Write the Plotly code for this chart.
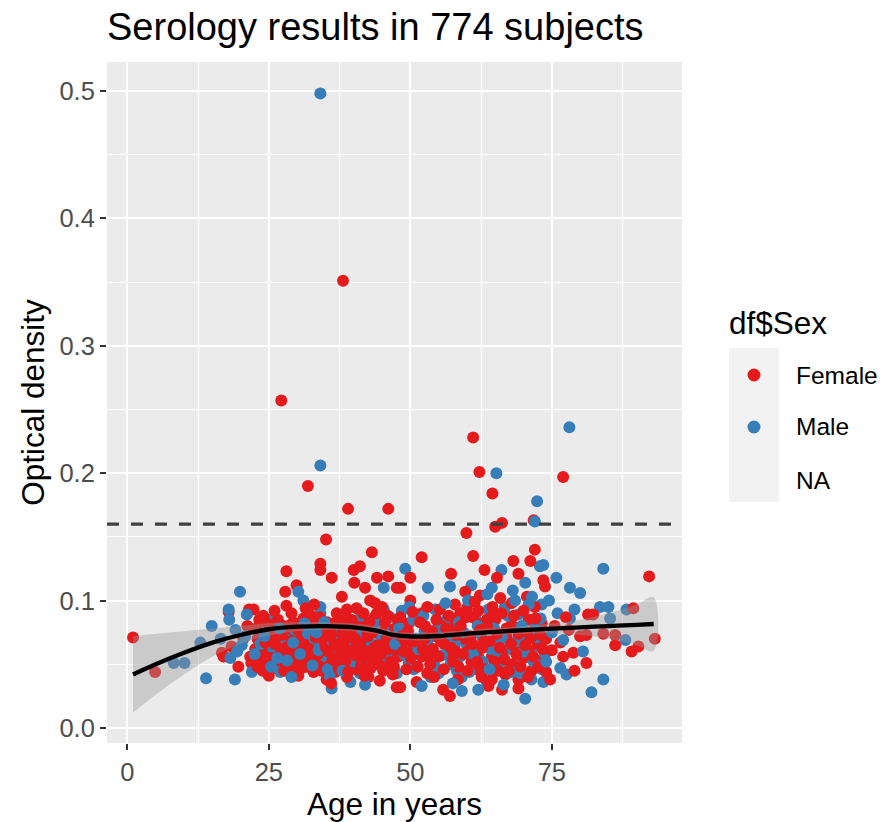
import plotly.graph_objects as go

# ---------------- data ----------------
female_outliers = [(38.1, 0.351), (27.2, 0.257), (31.9, 0.190), (39.0, 0.172), (46.1, 0.172),
                   (61.1, 0.228), (62.2, 0.201), (64.5, 0.184), (77.0, 0.197), (59.9, 0.153),
                   (65.0, 0.158), (66.2, 0.161), (71.8, 0.163), (92.2, 0.119), (35.1, 0.148)]
male_outliers = [(34.1, 0.498), (34.1, 0.206), (65.2, 0.200), (72.4, 0.178), (78.1, 0.236), (72.0, 0.162)]

female_under22 = [(1.0, 0.071), (4.9, 0.044), (16.7, 0.059), (17.0, 0.056), (17.9, 0.091), (18.4, 0.064),
                  (19.6, 0.048), (20.5, 0.070), (21.5, 0.093), (21.7, 0.056), (21.9, 0.051), (21.2, 0.080)]
male_under22 = [(8.2, 0.051), (10.1, 0.051), (12.9, 0.067), (13.9, 0.039), (14.9, 0.080), (17.9, 0.093),
                (18.0, 0.085), (18.2, 0.055), (19.0, 0.038), (19.1, 0.077), (19.4, 0.060), (19.9, 0.107),
                (20.2, 0.065), (21.1, 0.089), (22.0, 0.044), (16.5, 0.070), (20.8, 0.072)]

female_22_35 = [(22.3, 0.093), (22.6, 0.062), (23.0, 0.070), (23.4, 0.054), (23.8, 0.066), (24.1, 0.058),
                (24.5, 0.075), (24.8, 0.050), (25.2, 0.063), (25.5, 0.069), (25.9, 0.057), (26.2, 0.047),
                (26.5, 0.072), (26.8, 0.061), (27.1, 0.081), (27.4, 0.055), (27.9, 0.107), (28.1, 0.123),
                (28.1, 0.096), (28.3, 0.066), (28.6, 0.052), (28.9, 0.074), (29.2, 0.058), (29.5, 0.046),
                (29.9, 0.112), (30.0, 0.063), (30.3, 0.070), (30.6, 0.054), (30.9, 0.082), (31.1, 0.086),
                (31.4, 0.060), (31.7, 0.048), (32.0, 0.067), (32.3, 0.073), (32.6, 0.057), (32.9, 0.044),
                (33.2, 0.064), (33.5, 0.079), (33.8, 0.052), (34.1, 0.129), (34.1, 0.124), (34.4, 0.061),
                (34.7, 0.069), (35.0, 0.056), (24.0, 0.088), (26.0, 0.092), (29.0, 0.090), (31.5, 0.094),
                (33.0, 0.097), (25.0, 0.041), (27.5, 0.052), (30.2, 0.041), (32.5, 0.088), (23.0, 0.048)]
female_35_48 = [(35.2, 0.038), (35.5, 0.060), (35.8, 0.072), (36.1, 0.118), (36.3, 0.054), (36.6, 0.066),
                (36.9, 0.083), (37.0, 0.090), (37.3, 0.047), (37.6, 0.058), (37.9, 0.103), (38.2, 0.068),
                (38.5, 0.052), (38.8, 0.093), (38.8, 0.040), (39.2, 0.061), (39.5, 0.076), (39.6, 0.085),
                (40.0, 0.124), (40.1, 0.114), (40.3, 0.057), (40.5, 0.094), (40.8, 0.066), (41.1, 0.127),
                (41.3, 0.049), (41.7, 0.090), (42.0, 0.110), (42.2, 0.060), (42.5, 0.072), (42.9, 0.100),
                (43.2, 0.138), (43.3, 0.054), (43.6, 0.063), (43.8, 0.098), (44.1, 0.118), (44.1, 0.090),
                (44.3, 0.065), (44.8, 0.058), (45.2, 0.045), (45.5, 0.083), (45.8, 0.070), (46.1, 0.119),
                (46.2, 0.062), (46.5, 0.052), (47.0, 0.068), (47.3, 0.078), (47.6, 0.110), (47.6, 0.032),
                (47.9, 0.057), (36.0, 0.035), (39.0, 0.044), (41.9, 0.041), (44.6, 0.037), (46.9, 0.042),
                (38.0, 0.078), (42.8, 0.083), (45.0, 0.095), (40.2, 0.070), (37.2, 0.064), (43.0, 0.047)]
female_22_48_more = [(22.8, 0.078), (23.3, 0.085), (23.9, 0.045), (24.4, 0.067), (24.7, 0.082), (25.3, 0.055),
                     (25.7, 0.078), (26.1, 0.066), (26.6, 0.085), (27.0, 0.058), (27.3, 0.073), (27.7, 0.045),
                     (28.0, 0.063), (28.4, 0.080), (28.7, 0.059), (29.0, 0.068), (29.3, 0.083), (29.7, 0.053),
                     (30.1, 0.077), (30.4, 0.060), (30.8, 0.047), (31.2, 0.066), (31.6, 0.079), (31.9, 0.055),
                     (32.2, 0.062), (32.6, 0.083), (33.0, 0.050), (33.3, 0.071), (33.7, 0.058), (34.0, 0.087),
                     (34.3, 0.045), (34.6, 0.076), (35.0, 0.064), (35.3, 0.083), (35.7, 0.049), (36.0, 0.059),
                     (36.4, 0.075), (36.7, 0.044), (37.1, 0.070), (37.4, 0.081), (37.8, 0.062), (38.1, 0.055),
                     (38.4, 0.085), (38.7, 0.072), (39.1, 0.050), (39.4, 0.066), (39.8, 0.058), (40.1, 0.080),
                     (40.5, 0.046), (40.9, 0.075), (41.2, 0.061), (41.6, 0.083), (41.9, 0.053), (42.3, 0.068),
                     (42.6, 0.040), (43.0, 0.078), (43.4, 0.058), (43.7, 0.087), (44.0, 0.050), (44.4, 0.074),
                     (44.7, 0.066), (45.1, 0.056), (45.4, 0.076), (45.7, 0.049), (46.0, 0.088), (46.4, 0.071),
                     (46.7, 0.058), (47.1, 0.048), (47.4, 0.064), (47.8, 0.085)]
male_22_48 = [(23.5, 0.066), (24.9, 0.085), (25.8, 0.062), (27.0, 0.044), (27.8, 0.070), (28.8, 0.064),
              (29.6, 0.077), (30.2, 0.107), (31.1, 0.100), (32.3, 0.057), (33.0, 0.068), (34.1, 0.095),
              (34.1, 0.090), (35.0, 0.056), (35.6, 0.078), (36.1, 0.031), (37.6, 0.064), (38.4, 0.072),
              (39.4, 0.036), (40.0, 0.081), (41.1, 0.043), (41.6, 0.062), (42.9, 0.053), (43.8, 0.075),
              (44.5, 0.060), (45.3, 0.110), (45.3, 0.093), (46.4, 0.087), (46.8, 0.066), (47.6, 0.043),
              (26.5, 0.055), (31.9, 0.074), (36.8, 0.050), (40.8, 0.069), (44.9, 0.049), (33.8, 0.061),
              (39.0, 0.058), (42.2, 0.078)]
male_22_48_more = [(22.5, 0.058), (24.2, 0.072), (25.4, 0.048), (26.9, 0.078), (28.2, 0.053), (29.3, 0.067),
                   (30.5, 0.058), (31.3, 0.082), (32.7, 0.049), (33.4, 0.075), (34.8, 0.083), (35.4, 0.046),
                   (36.3, 0.068), (37.0, 0.057), (37.9, 0.078), (38.8, 0.063), (39.8, 0.052), (40.4, 0.074),
                   (41.3, 0.088), (42.4, 0.047), (43.2, 0.066), (44.0, 0.083), (45.0, 0.070), (45.9, 0.056),
                   (46.9, 0.077), (47.7, 0.060), (35.8, 0.040), (42.0, 0.034), (29.0, 0.040), (38.0, 0.045)]

female_48_74 = [(52.0, 0.134), (61.1, 0.135), (72.0, 0.140), (68.2, 0.131), (71.2, 0.131), (50.0, 0.118),
                (48.2, 0.110), (57.2, 0.121), (63.1, 0.124), (65.3, 0.118), (69.1, 0.121), (73.5, 0.116),
                (59.7, 0.107), (62.3, 0.104), (65.9, 0.102), (67.9, 0.098), (70.6, 0.103), (72.0, 0.095),
                (50.0, 0.100), (52.0, 0.090), (55.2, 0.093), (57.9, 0.097), (58.8, 0.090), (60.0, 0.094),
                (61.0, 0.087), (62.0, 0.092), (63.5, 0.085), (64.5, 0.095), (58.0, 0.084), (48.2, 0.087),
                (49.7, 0.082), (52.6, 0.080), (55.5, 0.080), (57.9, 0.078), (62.0, 0.082), (65.0, 0.085),
                (67.9, 0.081), (70.9, 0.085), (73.2, 0.082), (49.1, 0.068), (47.9, 0.056), (52.0, 0.056),
                (56.7, 0.057), (60.3, 0.061), (62.0, 0.056), (64.4, 0.056), (66.2, 0.059), (68.5, 0.064),
                (70.9, 0.061), (73.2, 0.053), (48.2, 0.032), (51.1, 0.036), (55.8, 0.030), (57.0, 0.025),
                (62.6, 0.040), (63.8, 0.033), (64.4, 0.038), (66.2, 0.030), (69.1, 0.038), (69.1, 0.031),
                (71.4, 0.045), (50.5, 0.062), (53.5, 0.050), (54.5, 0.072), (56.0, 0.066), (58.5, 0.048),
                (59.5, 0.070), (61.5, 0.046), (63.0, 0.068), (65.5, 0.045), (67.0, 0.072), (68.0, 0.050),
                (70.0, 0.055), (72.5, 0.066), (53.0, 0.043), (60.8, 0.052), (66.8, 0.042), (54.0, 0.062),
                (58.0, 0.060), (71.0, 0.075)]
female_48_74_more = [(48.4, 0.072), (48.8, 0.060), (49.3, 0.046), (49.6, 0.076), (50.1, 0.055), (50.4, 0.091),
                     (50.8, 0.068), (51.3, 0.048), (51.7, 0.083), (52.2, 0.062), (52.5, 0.070), (53.0, 0.095),
                     (53.3, 0.058), (53.8, 0.076), (54.2, 0.040), (54.6, 0.085), (55.0, 0.056), (55.4, 0.068),
                     (55.9, 0.046), (56.3, 0.078), (56.8, 0.088), (57.2, 0.063), (57.6, 0.052), (58.1, 0.073),
                     (58.4, 0.038), (58.9, 0.080), (59.3, 0.058), (59.8, 0.087), (60.1, 0.045), (60.6, 0.072),
                     (61.0, 0.066), (61.4, 0.099), (61.8, 0.052), (62.3, 0.077), (62.7, 0.063), (63.2, 0.046),
                     (63.6, 0.079), (64.0, 0.068), (64.5, 0.088), (64.9, 0.052), (65.3, 0.074), (65.8, 0.063),
                     (66.1, 0.090), (66.6, 0.054), (67.0, 0.078), (67.4, 0.045), (67.8, 0.066), (68.3, 0.088),
                     (68.7, 0.058), (69.1, 0.074), (69.5, 0.048), (70.0, 0.092), (70.3, 0.065), (70.8, 0.040),
                     (71.2, 0.070), (71.7, 0.056), (72.1, 0.086), (72.6, 0.048), (73.0, 0.073), (73.4, 0.062),
                     (74.0, 0.044)]
male_48_74 = [(49.1, 0.125), (53.1, 0.110), (57.0, 0.111), (60.8, 0.112), (64.4, 0.110), (70.3, 0.114),
              (68.1, 0.108), (66.1, 0.124), (72.9, 0.127), (48.5, 0.092), (54.4, 0.093), (56.4, 0.085),
              (61.4, 0.087), (63.8, 0.093), (66.7, 0.095), (69.1, 0.089), (73.2, 0.097), (47.3, 0.066),
              (49.7, 0.051), (53.8, 0.059), (54.4, 0.048), (58.8, 0.056), (63.2, 0.064), (66.1, 0.048),
              (69.1, 0.056), (72.6, 0.064), (73.2, 0.046), (55.0, 0.043), (58.2, 0.045), (59.1, 0.040),
              (59.1, 0.029), (63.5, 0.036), (70.3, 0.023), (71.4, 0.038), (73.5, 0.036), (51.0, 0.070),
              (52.5, 0.076), (55.8, 0.068), (57.5, 0.072), (60.0, 0.065), (62.5, 0.073), (65.0, 0.067),
              (67.5, 0.062), (70.5, 0.070), (72.0, 0.078), (50.5, 0.085), (60.2, 0.100), (68.5, 0.100),
              (71.5, 0.103)]
male_48_74_more = [(48.0, 0.078), (48.9, 0.058), (49.8, 0.095), (50.6, 0.046), (51.4, 0.062), (52.3, 0.088),
                   (53.0, 0.067), (53.6, 0.040), (54.8, 0.078), (55.6, 0.057), (56.2, 0.098), (57.1, 0.050),
                   (57.9, 0.066), (58.6, 0.083), (59.4, 0.075), (60.4, 0.044), (61.1, 0.058), (61.9, 0.080),
                   (62.8, 0.052), (63.6, 0.105), (64.2, 0.062), (64.8, 0.078), (65.6, 0.055), (66.3, 0.070),
                   (67.2, 0.088), (67.9, 0.044), (68.8, 0.068), (69.7, 0.080), (70.1, 0.060), (70.9, 0.097),
                   (71.8, 0.052), (72.3, 0.071), (73.0, 0.086), (73.8, 0.058), (57.5, 0.035), (62.0, 0.030),
                   (66.5, 0.034), (69.5, 0.043), (52.0, 0.033), (64.0, 0.046)]

female_over74 = [(73.8, 0.111), (81.4, 0.089), (82.3, 0.089), (89.4, 0.094), (84.1, 0.074), (86.2, 0.073),
                 (86.2, 0.065), (89.1, 0.060), (90.3, 0.064), (93.2, 0.070), (80.0, 0.072), (81.1, 0.073),
                 (81.1, 0.051), (74.7, 0.038), (77.0, 0.056), (78.8, 0.059), (75.5, 0.080), (76.5, 0.067),
                 (74.0, 0.070), (78.0, 0.077), (79.0, 0.045), (75.0, 0.061), (77.5, 0.087)]
male_over74 = [(84.1, 0.125), (73.5, 0.128), (75.8, 0.118), (78.2, 0.110), (80.0, 0.106), (83.5, 0.095),
               (85.0, 0.095), (88.2, 0.093), (85.3, 0.086), (78.2, 0.086), (88.0, 0.069), (84.1, 0.038),
               (82.0, 0.028), (77.6, 0.042), (74.5, 0.100), (76.0, 0.090), (79.0, 0.093), (75.0, 0.075),
               (77.0, 0.069), (80.5, 0.060), (74.0, 0.052), (76.5, 0.047)]

# loess fit and 95% band
smooth_age = [1, 5, 10, 15, 20, 25, 30, 35, 40, 44, 47, 50, 55, 60, 65, 70, 75, 80, 85, 90, 93]
smooth_fit = [0.042, 0.050, 0.059, 0.067, 0.073, 0.0775, 0.0795, 0.080, 0.079, 0.0765, 0.073, 0.0718,
              0.0722, 0.0740, 0.0755, 0.0768, 0.0780, 0.0790, 0.0800, 0.0810, 0.0816]
smooth_half = [0.030, 0.024, 0.017, 0.011, 0.007, 0.005, 0.0035, 0.003, 0.003, 0.003, 0.003, 0.003,
               0.003, 0.003, 0.003, 0.003, 0.004, 0.006, 0.010, 0.016, 0.021]

threshold = 0.16
x_ticks = [0, 25, 50, 75]
y_ticks = [0.0, 0.1, 0.2, 0.3, 0.4, 0.5]
y_tick_text = ["0.0", "0.1", "0.2", "0.3", "0.4", "0.5"]
sex_levels = ["Female", "Male", "NA"]

# ---------------- build ----------------
FEMALE_C = "#E41A1C"
MALE_C = "#377EB8"

female = (female_under22 + female_22_35 + female_22_48_more + female_35_48 + female_48_74
          + female_48_74_more + female_over74 + female_outliers)
male = male_under22 + male_22_48 + male_22_48_more + male_48_74 + male_48_74_more + male_over74 + male_outliers

# interleave the two groups so that drawing order mixes colours (as in the original data order)
recs = [(i / len(female), a, v, FEMALE_C) for i, (a, v) in enumerate(female)]
recs += [((j + 0.5) / len(male), a, v, MALE_C) for j, (a, v) in enumerate(male)]
recs.sort(key=lambda r: r[0])

fig = go.Figure()
fig.add_trace(go.Scatter(
    x=[r[1] for r in recs], y=[r[2] for r in recs], mode="markers",
    marker=dict(color=[r[3] for r in recs], size=12, line=dict(width=0)),
    showlegend=False, hoverinfo="x+y"))

lo = [f - h for f, h in zip(smooth_fit, smooth_half)]
hi = [f + h for f, h in zip(smooth_fit, smooth_half)]
fig.add_trace(go.Scatter(
    x=smooth_age + smooth_age[::-1], y=hi + lo[::-1], fill="toself",
    fillcolor="rgba(153,153,153,0.4)", line=dict(width=0, shape="spline"),
    mode="lines", showlegend=False, hoverinfo="skip"))
fig.add_trace(go.Scatter(
    x=smooth_age, y=smooth_fit, mode="lines",
    line=dict(color="black", width=4.3, shape="spline"), showlegend=False))

fig.add_shape(type="line", xref="paper", x0=0, x1=1, yref="y", y0=threshold, y1=threshold,
              line=dict(color="#404040", width=3.2, dash="12px,12px"), layer="above")

# ---------------- legend (ggplot style) ----------------
W, H = 883, 822
L, T = 107.0, 62.0
PW, PH = 575.0, 681.0  # plot area in px


def px_x(p):  # window px -> paper
    return (p - L) / PW


def px_y(p):
    return (T + PH - p) / PH


fig.add_shape(type="rect", xref="paper", yref="paper", x0=px_x(729), x1=px_x(779),
              y0=px_y(502), y1=px_y(348), fillcolor="#F2F2F2", line=dict(width=0), layer="below")
for cy, col in [(375, FEMALE_C), (427, MALE_C)]:
    r = 6.5
    fig.add_shape(type="circle", xref="paper", yref="paper",
                  x0=px_x(754 - r), x1=px_x(754 + r), y0=px_y(cy + r), y1=px_y(cy - r),
                  fillcolor=col, line=dict(width=0))
fig.add_annotation(text="df$Sex", xref="paper", yref="paper", x=px_x(727), y=px_y(323),
                   xanchor="left", yanchor="middle", showarrow=False,
                   font=dict(size=31.5, color="black"))
for lab, cy in zip(sex_levels, [375, 427, 480]):
    fig.add_annotation(text=lab, xref="paper", yref="paper", x=px_x(794), y=px_y(cy),
                       xanchor="left", yanchor="middle", showarrow=False,
                       font=dict(size=24.5, color="black"))

FONT = "Liberation Sans, Arial, Helvetica, sans-serif"
fig.update_layout(
    width=W, height=H,
    margin=dict(l=L, r=W - L - PW, t=T, b=H - T - PH),
    paper_bgcolor="white", plot_bgcolor="#EBEBEB",
    font=dict(family=FONT, color="black"),
    title=dict(text="Serology results in 774 subjects", x=107 / W, xanchor="left",
               xref="container", y=1 - 27 / H, yanchor="middle", yref="container",
               font=dict(size=38, color="black")),
    showlegend=False,
)
fig.update_xaxes(
    range=[-3.6, 98.0], tickvals=x_ticks, ticktext=[str(t) for t in x_ticks],
    showgrid=True, gridcolor="white", gridwidth=2.2, zeroline=False, showline=False,
    ticks="outside", ticklen=6, tickwidth=2.2, tickcolor="#333333",
    tickfont=dict(size=25.5, color="#4D4D4D"),
    minor=dict(tickvals=[12.5, 37.5, 62.5, 87.5], showgrid=True, gridcolor="white", gridwidth=1.1, ticks=""),
    title=dict(text="Age in years", font=dict(size=31.5, color="black"), standoff=6),
    automargin=False,
)
fig.update_yaxes(
    range=[-0.0118, 0.5228], tickvals=y_ticks, ticktext=y_tick_text,
    showgrid=True, gridcolor="white", gridwidth=2.2, zeroline=False, showline=False,
    ticks="outside", ticklen=6, tickwidth=2.2, tickcolor="#333333",
    tickfont=dict(size=25.5, color="#4D4D4D"),
    minor=dict(tickvals=[0.05, 0.15, 0.25, 0.35, 0.45], showgrid=True, gridcolor="white", gridwidth=1.1, ticks=""),
    title=dict(text="Optical density", font=dict(size=31.5, color="black"), standoff=5),
    automargin=False,
)

# remove the default 8px page margin so the figure fills the 883x822 window exactly
fig.write_html("out.html",
               config={"displayModeBar": False},
               post_script="document.body.style.margin='0px';document.body.style.overflow='hidden';")
